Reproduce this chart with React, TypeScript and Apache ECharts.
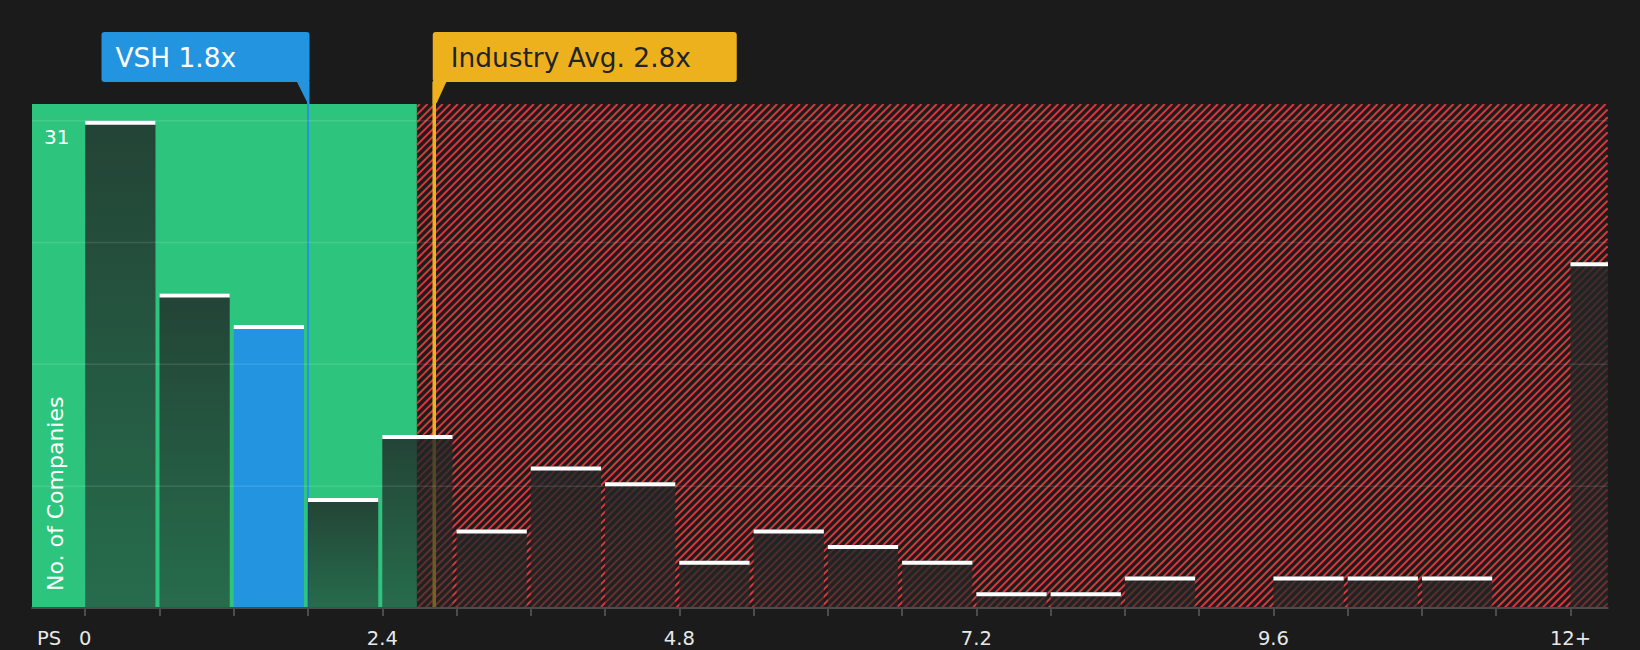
import React, { useEffect, useRef } from 'react';
import * as echarts from 'echarts';

// ---- data ----
const binEdges = [0, 0.6, 1.2, 1.8, 2.4, 3.0, 3.6, 4.2, 4.8, 5.4, 6.0, 6.6, 7.2, 7.8, 8.4, 9.0, 9.6, 10.2, 10.8, 11.4, 12.0];
const companyCounts = [31, 20, 18, 7, 11, 5, 9, 8, 3, 5, 4, 3, 1, 1, 2, 0, 2, 2, 2, 0, 22];
const binWidth = 0.6;
const highlightBin = 2;
const companyName = 'VSH';
const companyPS = 1.8;
const industryAvgPS = 2.82;
const fairRangeEnd = 2.68;
const xLabelValues = [0, 2.4, 4.8, 7.2, 9.6, 12];
const xLabelTexts = ['0', '2.4', '4.8', '7.2', '9.6', '12+'];
const yGridValues = [7.75, 15.5, 23.25, 31];
const yLabelValues = [31];
const xRange = [-0.43, 12.3];
const yRange = [0, 32.06];
const markerValues = [companyPS, industryAvgPS];
const markerTexts = [`${companyName} ${companyPS.toFixed(1)}x`, `Industry Avg. ${industryAvgPS.toFixed(1)}x`];

// ---- styles ----
const BG = '#1b1b1b';
const GREEN = '#2dc57d';
const RED = '#d8383b';
const BLUE = '#2394e0';
const GOLD = '#edb11e';
const FONT = 'DejaVu Sans';
const markerStyles = [
  { fill: BLUE, text: '#ffffff', lineWidth: 2, boxWidth: 208, side: 'left', textPad: 14 },
  { fill: GOLD, text: '#1f232a', lineWidth: 3.5, boxWidth: 304, side: 'right', textPad: 18 },
];

const barFill = new echarts.graphic.LinearGradient(0, 0, 0, 1, [
  { offset: 0, color: 'rgba(33,39,38,0.82)' },
  { offset: 1, color: 'rgba(33,39,38,0.56)' },
]);

function regionItem(params: any, api: any) {
  const cs = params.coordSys;
  const gx0 = cs.x;
  const gy0 = cs.y;
  const gx1 = cs.x + cs.width;
  const gy1 = cs.y + cs.height;
  const split = api.coord([api.value(0), 0])[0];
  const children: any[] = [
    { type: 'rect', shape: { x: gx0, y: gy0, width: split - gx0, height: gy1 - gy0 }, style: { fill: GREEN } },
    { type: 'rect', shape: { x: split, y: gy0, width: gx1 - split, height: gy1 - gy0 }, style: { fill: '#1c1c1c' } },
  ];
  const step = 7.6;
  for (let c = split + gy0 + 3; c < gx1 + gy1; c += step) {
    const xa = Math.max(split, c - gy1);
    const xb = Math.min(gx1, c - gy0);
    if (xb <= xa) continue;
    children.push({
      type: 'line',
      shape: { x1: xa, y1: c - xa, x2: xb, y2: c - xb },
      style: { stroke: RED, lineWidth: 2 },
    });
  }
  return { type: 'group', children };
}

function barItem(params: any, api: any) {
  const x0 = api.value(0);
  const v = api.value(1);
  const x1 = api.value(2);
  if (!v) return { type: 'group', children: [] };
  const pTop = api.coord([x0, v]);
  const pBot = api.coord([x1, 0]);
  const left = pTop[0];
  const right = pBot[0] - 4;
  const top = pTop[1];
  const bottom = pBot[1];
  const hl = params.dataIndex === highlightBin;
  return {
    type: 'group',
    children: [
      { type: 'rect', shape: { x: left, y: top, width: right - left, height: bottom - top }, style: { fill: hl ? BLUE : barFill } },
      { type: 'rect', shape: { x: left, y: top, width: right - left, height: 4 }, style: { fill: '#ffffff' } },
    ],
  };
}

function markerItem(params: any, api: any) {
  const cs = params.coordSys;
  const st = markerStyles[params.dataIndex];
  const text = markerTexts[params.dataIndex];
  const lx = api.coord([api.value(0), 0])[0];
  const gridTop = cs.y;
  const gridBottom = cs.y + cs.height;
  const boxBottom = gridTop - 22;
  const boxTop = gridTop - 72;
  let left: number;
  let pointer: number[][];
  if (st.side === 'left') {
    const right = lx + 1.5;
    left = right - st.boxWidth;
    pointer = [[right - 13, boxBottom - 1], [right, boxBottom - 1], [right, gridTop], [lx, gridTop]];
  } else {
    left = lx - 1.5;
    pointer = [[left, boxBottom - 1], [left + 14, boxBottom - 1], [left + 4, gridTop - 1], [left, gridTop]];
  }
  return {
    type: 'group',
    children: [
      { type: 'line', shape: { x1: lx, y1: boxBottom, x2: lx, y2: gridBottom }, style: { stroke: st.fill, lineWidth: st.lineWidth } },
      { type: 'rect', shape: { x: left, y: boxTop, width: st.boxWidth, height: boxBottom - boxTop, r: 3 }, style: { fill: st.fill } },
      { type: 'polygon', shape: { points: pointer }, style: { fill: st.fill } },
      {
        type: 'text',
        style: {
          text,
          x: left + st.textPad,
          y: (boxTop + boxBottom) / 2,
          fill: st.text,
          fontSize: 26.4,
          fontFamily: FONT,
          align: 'left',
          verticalAlign: 'middle',
        },
      },
    ],
  };
}

function gridItem(params: any, api: any) {
  const cs = params.coordSys;
  const y = api.coord([0, api.value(1)])[1];
  return {
    type: 'line',
    shape: { x1: cs.x, y1: y, x2: cs.x + cs.width, y2: y },
    style: { stroke: 'rgba(255,255,255,0.11)', lineWidth: 1.5 },
  };
}

function xLabel(v: number) {
  const i = xLabelValues.findIndex((d) => Math.abs(d - v) < 1e-6);
  return i >= 0 ? xLabelTexts[i] : '';
}

export default function App() {
  const ref = useRef<HTMLDivElement>(null);
  useEffect(() => {
    const chart = echarts.init(ref.current!, null, { renderer: 'svg' });
    chart.setOption({
      animation: false,
      backgroundColor: BG,
      textStyle: { fontFamily: FONT },
      grid: { left: 32, right: 32.4, top: 104, bottom: 42, containLabel: false },
      xAxis: {
        type: 'value',
        min: xRange[0],
        max: xRange[1],
        z: 10,
        splitLine: { show: false },
        axisLine: { show: true, onZero: false, lineStyle: { color: '#4b4b4b', width: 2 } },
        axisTick: { show: true, customValues: binEdges, length: 8, lineStyle: { color: '#4b4b4b', width: 2 } },
        axisLabel: {
          customValues: xLabelValues,
          formatter: xLabel,
          color: '#e8e8e8',
          fontSize: 19.5,
          lineHeight: 18,
          margin: 21.5,
          fontFamily: FONT,
        },
      },
      yAxis: {
        type: 'value',
        min: yRange[0],
        max: yRange[1],
        z: 10,
        splitLine: { show: false },
        axisLine: { show: false },
        axisTick: { show: false },
        axisLabel: {
          customValues: yLabelValues,
          inside: true,
          color: '#ffffff',
          fontSize: 20,
          margin: 12,
          verticalAlign: 'top',
          padding: [6, 0, 0, 0],
          fontFamily: FONT,
        },
      },
      graphic: [
        {
          type: 'text',
          x: 55,
          y: 591,
          rotation: Math.PI / 2,
          z: 20,
          style: { text: 'No. of Companies', fill: '#ffffff', fontSize: 22, fontFamily: FONT, align: 'left', verticalAlign: 'middle' },
        },
        {
          type: 'text',
          x: 37,
          y: 638.5,
          z: 20,
          style: { text: 'PS', fill: '#e8e8e8', fontSize: 19.5, lineHeight: 18, fontFamily: FONT, align: 'left', verticalAlign: 'middle' },
        },
      ],
      series: [
        {
          type: 'custom',
          name: 'regions',
          z: 1,
          clip: true,
          silent: true,
          renderItem: regionItem,
          data: [[fairRangeEnd, 0]],
        },
        {
          type: 'custom',
          name: 'markers',
          z: 2,
          clip: false,
          silent: true,
          renderItem: markerItem,
          data: markerValues.map((v) => [v, 0]),
        },
        {
          type: 'custom',
          name: 'companies',
          z: 3,
          clip: true,
          renderItem: barItem,
          encode: { x: [0, 2], y: 1 },
          data: binEdges.map((e, i) => [e, companyCounts[i], e + binWidth]),
        },
        {
          type: 'custom',
          name: 'grid',
          z: 4,
          clip: true,
          silent: true,
          renderItem: gridItem,
          data: yGridValues.map((v) => [0, v]),
        },
      ],
    });
    return () => chart.dispose();
  }, []);
  return <div ref={ref} style={{ position: 'absolute', left: 0, top: 0, width: 1640, height: 650 }} />;
}
